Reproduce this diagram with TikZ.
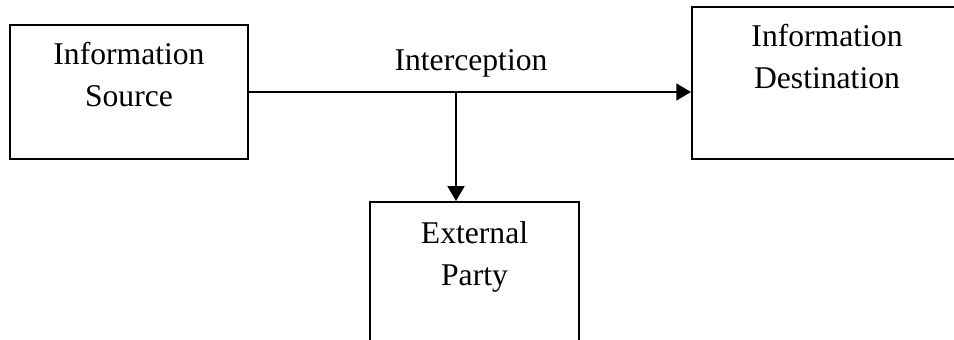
\documentclass[tikz,border=0pt]{standalone}
\usepackage{fontspec}
\setmainfont{Liberation Serif}
\usetikzlibrary{arrows.meta,positioning}

\tikzset{
  box/.style={draw, line width=1.4pt, rectangle, inner sep=0pt},
  boxtext/.style={align=center, inner sep=0pt},
  flow/.style={line width=1.4pt, -{Triangle[length=10.5pt,width=12pt]}}
}

\begin{document}
\begin{tikzpicture}[font=\fontsize{22.5}{29.9}\selectfont]
  \useasboundingbox (0,0) rectangle (23.85,-8.5);
  \clip (0,0) rectangle (23.85,-8.5);

  % the three parties
  \node[box, minimum width=5.95cm, minimum height=3.35cm] (src) at (3.225,-2.3) {};
  \node[box, minimum width=6.75cm, minimum height=3.8cm] (dst) at (20.675,-2.075) {};
  \node[box, anchor=north, minimum width=5.225cm, minimum height=4.475cm] (ext) at (11.8625,-5.025) {};

  \node[boxtext, below=0.45cm of src.north] (src-text) {Information\\Source};
  \node[boxtext, below=0.45cm of dst.north] (dst-text) {Information\\Destination};
  \node[boxtext, below=0.5cm of ext.north] (ext-text) {External\\Party};

  % main channel, tapped on the way
  \draw[flow] (src) -- (src -| dst.west);
  \coordinate (tap) at (11.4,-2.3);
  \draw[flow] (tap) -- (tap |- ext.north);
  \node[anchor=base] (intercept) at (11.775,-1.775) {Interception};
\end{tikzpicture}
\end{document}
